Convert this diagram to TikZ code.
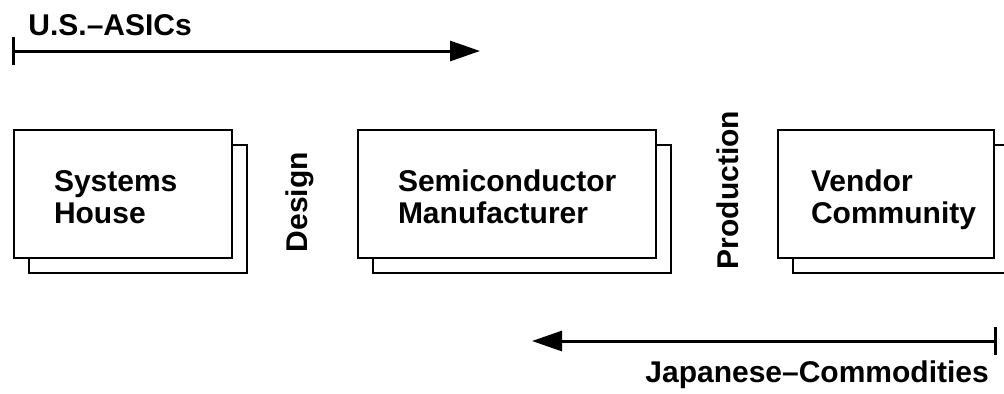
\documentclass[tikz,border=0pt]{standalone}
\usepackage{fontspec}
\setmainfont{Liberation Sans}
\usetikzlibrary{arrows.meta,shadows,positioning}
\tikzset{
  firm/.style={draw, line width=1pt, fill=white, anchor=north west,
    minimum height=64pt, align=left, font=\fontsize{15}{16}\selectfont\bfseries,
    copy shadow={shadow xshift=7.5pt, shadow yshift=-7.5pt}},
  flow/.style={line width=1.5pt,
    {Bar[width=14pt]}-{Triangle[length=15pt,width=10pt]}},
  lbl/.style={font=\fontsize{15}{16}\selectfont\bfseries, inner sep=0pt}
}
\begin{document}
\begin{tikzpicture}[x=0.5pt,y=-0.5pt]
  \useasboundingbox (0,0) rectangle (1004,393);
  % the three parties
  \foreach \nm/\x/\ix/\tw/\txt in {sys/13/20/69/{Systems\\House},
      semi/357/20/109/{Semiconductor\\Manufacturer},
      vend/777/16.5/75/{Vendor\\Community}}{
    \node[firm, inner xsep=\ix pt, text width=\tw pt] (\nm) at (\x,129)
      {\rule{0pt}{18pt}\txt\strut};
  }
  \node[lbl, rotate=90] (design) at (300,202) {Design};
  \node[lbl, rotate=90] (prod) at (728,190) {Production};

  % flows
  \coordinate (usL) at (12,51);
  \coordinate (usR) at (480,51);
  \draw[flow] (usL) -- (usR);
  \node[lbl, anchor=base west] (us) at (28,35) {U.S.–ASICs};

  \coordinate (jpR) at (997,341);
  \coordinate (jpL) at (532,341);
  \draw[flow] (jpR) -- (jpL);
  \node[lbl, anchor=base west] (jp) at (645,382) {Japanese–Commodities};
\end{tikzpicture}
\end{document}
